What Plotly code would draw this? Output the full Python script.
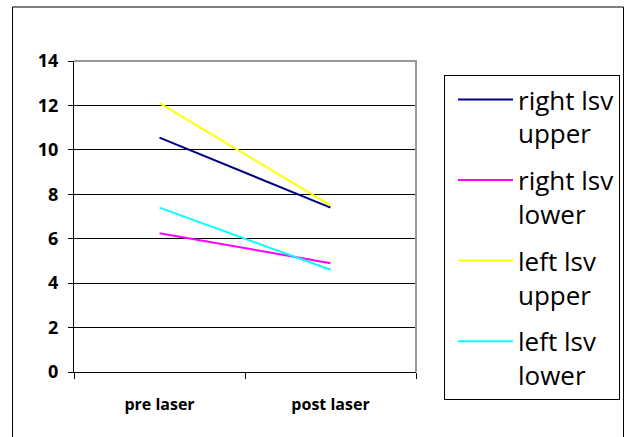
import plotly.graph_objects as go

categories = ["pre laser", "post laser"]
series_names = ["right lsv<br>upper", "right lsv<br>lower", "left lsv<br>upper", "left lsv<br>lower"]
right_upper = [10.55, 7.4]
right_lower = [6.25, 4.9]
left_upper = [12.1, 7.5]
left_lower = [7.4, 4.6]
y_ticks = [0, 2, 4, 6, 8, 10, 12, 14]

series_values = [right_upper, right_lower, left_upper, left_lower]
colors = ["#000080", "#FF00FF", "#FFFF00", "#00FFFF"]

fig = go.Figure()
for i, (name, vals, col) in enumerate(zip(series_names, series_values, colors)):
    fig.add_trace(go.Scatter(
        x=categories, y=vals, mode="lines", name=name,
        line=dict(color=col, width=2), legendgroup=f"g{i}",
    ))

W, H = 626, 437
L, R, T, B = 74, 210, 61, 65
pw, ph = W - L - R, H - T - B

def px(x):
    return (x - L) / pw

def py(y):
    return (H - B - y) / ph

fig.update_layout(
    width=W, height=H,
    margin=dict(l=L, r=R, t=T, b=B, autoexpand=False),
    paper_bgcolor="white", plot_bgcolor="rgba(0,0,0,0)",
    showlegend=True,
    legend=dict(
        xref="container", yref="container",
        x=444 / W, y=1 - 75 / H, xanchor="left", yanchor="top",
        bordercolor="black", borderwidth=1, bgcolor="white",
        font=dict(family="Open Sans", size=26, color="black"),
        valign="top", itemwidth=55, tracegroupgap=10, indentation=8,
        maxheight=420,
    ),
    xaxis=dict(
        type="category", categoryorder="array", categoryarray=categories,
        range=[-0.5, 1.5], tickson="boundaries", ticks="outside", ticklen=6,
        tickcolor="black", showline=True, linecolor="black", linewidth=1,
        showgrid=False, ticklabelstandoff=18,
        tickfont=dict(family="Open Sans", size=16, color="black", weight="bold"),
    ),
    yaxis=dict(
        range=[0, 14], tickvals=y_ticks, ticks="outside", ticklen=5,
        tickcolor="black", showline=True, linecolor="black", linewidth=1,
        showgrid=True, gridcolor="black", gridwidth=1, zeroline=False,
        ticklabelstandoff=6,
        tickfont=dict(family="Open Sans", size=18, color="black", weight="bold"),
    ),
    shapes=[
        dict(type="path", xref="paper", yref="paper", path="M0,1 L1,1 L1,0",
             line=dict(color="#999999", width=2), layer="above"),
        dict(type="rect", xref="paper", yref="paper",
             x0=px(12.5), x1=px(623.5), y0=py(445), y1=py(7),
             line=dict(color="black", width=1), layer="below"),
    ],
)

fig.write_html("out.html", config={"displayModeBar": False},
               post_script="document.body.style.margin='0px';")
